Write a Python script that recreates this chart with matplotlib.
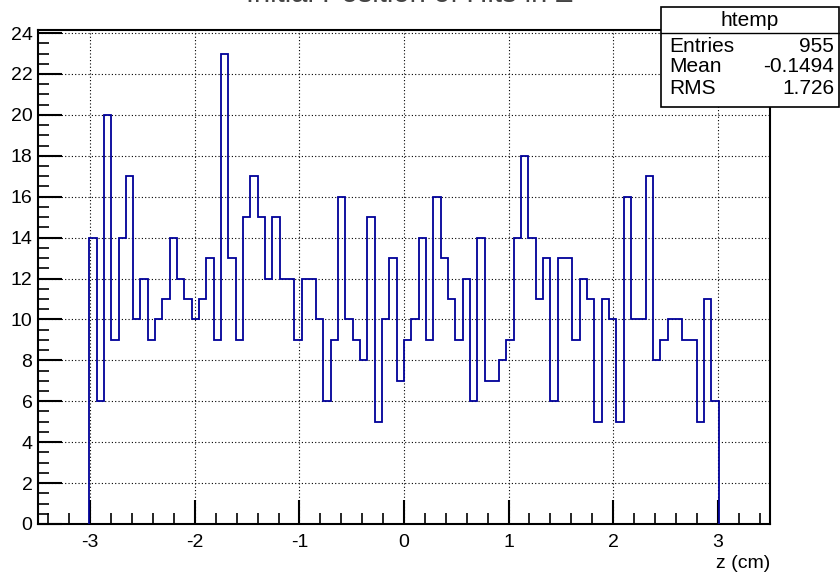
import numpy as np
import matplotlib
matplotlib.use("Agg")
import matplotlib.pyplot as plt
from matplotlib.ticker import MultipleLocator
from matplotlib.patches import Rectangle

# histogram htemp: 100 bins from -3.5 to 3.5, filled bins are 7..92
x_min, x_max, n_bins = -3.5, 3.5, 100
first_bin = 7
counts = [14, 6, 20, 9, 14, 17, 10, 12, 9, 10, 11, 14, 12, 11, 10, 11, 13, 9, 23, 13, 9, 15, 17,
          15, 12, 15, 12, 12, 9, 12, 12, 10, 6, 9, 16, 10, 9, 8, 15, 5, 10, 13, 7, 9, 10, 14,
          9, 16, 13, 11, 9, 12, 6, 14, 7, 7, 8, 9, 14, 18, 14, 11, 13, 6, 13, 13, 9, 12, 11,
          5, 11, 10, 5, 16, 10, 10, 17, 8, 9, 10, 10, 9, 9, 5, 11, 6]

title = "Initial Position of Hits in Z"
x_label = "z (cm)"
stats_name = "htemp"
stats_rows = [("Entries", "955"), ("Mean", "-0.1494"), ("RMS", "1.726")]

plt.rcParams['font.family'] = ['Liberation Sans', 'DejaVu Sans']
plt.rcParams['axes.unicode_minus'] = False

edges_all = np.linspace(x_min, x_max, n_bins + 1)
edges = edges_all[first_bin:first_bin + len(counts) + 1]

W, H = 840, 574
def fx(px):
    return px / W
def fy(py):
    return 1 - py / H

fig = plt.figure(figsize=(8.4, 5.74), dpi=100)
ax = fig.add_axes([fx(38), fy(524), (770 - 38) / W, (524 - 30) / H])

ax.stairs(counts, edges, baseline=0, color='#000099', linewidth=1.3, zorder=3)

ax.set_xlim(x_min, x_max)
ax.set_ylim(0, 1.05 * max(counts))

ax.xaxis.set_major_locator(MultipleLocator(1))
ax.xaxis.set_minor_locator(MultipleLocator(0.2))
ax.yaxis.set_major_locator(MultipleLocator(2))
ax.yaxis.set_minor_locator(MultipleLocator(0.5))
ax.tick_params(which='both', direction='in', top=False, right=False, labelsize=14)
ax.tick_params(which='major', length=17, width=1.5)
ax.tick_params(which='minor', length=8, width=1.2)
ax.tick_params(axis='x', pad=7)
ax.tick_params(axis='y', pad=4)
ax.grid(True, which='major', color='black', linestyle=(0, (1, 2)), linewidth=0.8)
for s in ax.spines.values():
    s.set_linewidth(1.5)

fig.text(fx(770), fy(563), x_label, ha='right', va='center', fontsize=14)

# title sits above the canvas in the original, only the bottom edge of the glyphs shows
fig.text(fx(410), fy(2.5), title, ha='center', va='baseline', fontsize=21, color='#444444')

# stats box
fig.patches.append(Rectangle((fx(661), fy(107)), fx(839) - fx(661), fy(7) - fy(107),
                             transform=fig.transFigure, facecolor='white',
                             edgecolor='black', linewidth=1.2, zorder=5))
fig.add_artist(plt.Line2D([fx(661), fx(839)], [fy(33), fy(33)], transform=fig.transFigure,
                          color='black', linewidth=1.0, zorder=6))
fig.text(fx(750), fy(20), stats_name, ha='center', va='center', fontsize=15, zorder=7)
for i, (k, v) in enumerate(stats_rows):
    y = 46 + i * 21
    fig.text(fx(669), fy(y), k, ha='left', va='center', fontsize=15, zorder=7)
    fig.text(fx(834), fy(y), v, ha='right', va='center', fontsize=15, zorder=7)

fig.savefig("out.png", dpi=100)
